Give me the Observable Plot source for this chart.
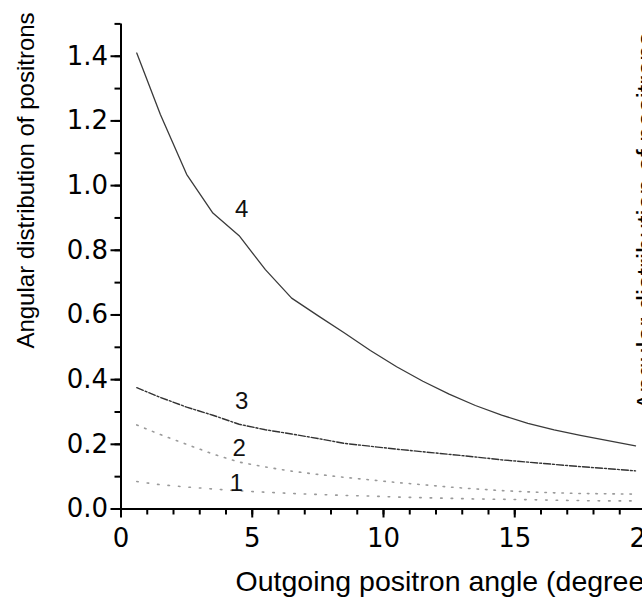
<!DOCTYPE html>
<html>
<head>
<meta charset="utf-8">
<script src="https://cdn.jsdelivr.net/npm/d3@7"></script>
<script src="https://cdn.jsdelivr.net/npm/@observablehq/plot@0.6"></script>
<style>
  html, body { margin: 0; padding: 0; background: #ffffff; }
  body { width: 642px; height: 609px; overflow: hidden; }
  #chart svg { display: block; max-width: none !important; width: 700px !important; height: 609px !important; }
</style>
</head>
<body>
<div id="chart"></div>
<script>
// ---- data ----
const angles = [0.6, 1.5, 2.5, 3.5, 4.5, 5.5, 6.5, 7.5, 8.5, 9.5, 10.5, 11.5, 12.5, 13.5, 14.5, 15.5, 16.5, 17.5, 18.5, 19.6];
const curve4 = [1.41, 1.22, 1.035, 0.915, 0.845, 0.74, 0.652, 0.598, 0.545, 0.49, 0.44, 0.395, 0.355, 0.32, 0.29, 0.265, 0.245, 0.228, 0.212, 0.195];
const curve3 = [0.375, 0.345, 0.315, 0.29, 0.262, 0.245, 0.232, 0.218, 0.203, 0.194, 0.185, 0.177, 0.169, 0.161, 0.152, 0.145, 0.138, 0.131, 0.125, 0.118];
const curve2 = [0.26, 0.23, 0.2, 0.17, 0.145, 0.13, 0.117, 0.107, 0.098, 0.09, 0.082, 0.075, 0.068, 0.062, 0.057, 0.053, 0.05, 0.048, 0.047, 0.046];
const curve1 = [0.085, 0.075, 0.068, 0.062, 0.056, 0.052, 0.048, 0.045, 0.042, 0.04, 0.037, 0.035, 0.033, 0.031, 0.03, 0.029, 0.027, 0.026, 0.025, 0.025];

const curveNames = ["1", "2", "3", "4"];
const labelX = [4.4, 4.5, 4.6, 4.6];
const labelY = [0.08, 0.189, 0.333, 0.926];

const xMajorTicks = [0, 5, 10, 15, 20];
const xMinorTicks = [0, 1, 2, 3, 4, 5, 6, 7, 8, 9, 10, 11, 12, 13, 14, 15, 16, 17, 18, 19, 20];
const yMajorTicks = [0, 0.2, 0.4, 0.6, 0.8, 1.0, 1.2, 1.4];
const yMinorTicks = [0, 0.1, 0.2, 0.3, 0.4, 0.5, 0.6, 0.7, 0.8, 0.9, 1.0, 1.1, 1.2, 1.3, 1.4, 1.5];

const xLabel = "Outgoing positron angle (degrees)";
const yLabel = "Angular distribution of positrons";
const yLabelNeighbour = "Angular distribution of positrons";

// ---- build tables ----
const toRows = (vals) => angles.map((a, i) => ({angle: a, value: vals[i]}));
const rows4 = toRows(curve4), rows3 = toRows(curve3), rows2 = toRows(curve2), rows1 = toRows(curve1);
const labels = curveNames.map((n, i) => ({name: n, x: labelX[i], y: labelY[i]}));

const tickFont = "'DejaVu Sans', sans-serif";

const chart = Plot.plot({
  width: 700,
  height: 609,
  marginLeft: 120.5,
  marginRight: 54.5,
  marginTop: 23.4,
  marginBottom: 100.5,
  x: {domain: [0, 20]},
  y: {domain: [0, 1.5]},
  style: {fontFamily: "'Liberation Sans', Arial, sans-serif", background: "#ffffff", color: "#000000", overflow: "visible"},
  marks: [
    Plot.line(rows1, {x: "angle", y: "value", stroke: "#9a9a9a", strokeWidth: 1.6, strokeDasharray: "1.5,9"}),
    Plot.line(rows2, {x: "angle", y: "value", stroke: "#9a9a9a", strokeWidth: 1.6, strokeDasharray: "1.5,7"}),
    Plot.line(rows3, {x: "angle", y: "value", stroke: "#333333", strokeWidth: 1.4, strokeDasharray: "7,2,2,2"}),
    Plot.line(rows4, {x: "angle", y: "value", stroke: "#3a3a3a", strokeWidth: 1.3}),
    Plot.text(labels, {x: "x", y: "y", text: "name", fontSize: 24, fill: "#111"}),
    Plot.axisX({ticks: xMinorTicks, tickSize: 6, tickFormat: () => "", label: null, stroke: "#000", strokeWidth: 2}),
    Plot.axisX({ticks: xMajorTicks, tickSize: 9, tickPadding: 11, tickFormat: d3.format("d"), label: null, stroke: "#000", strokeWidth: 2, fontSize: 26, fontFamily: tickFont}),
    Plot.axisY({ticks: yMinorTicks, tickSize: 6, tickFormat: () => "", label: null, stroke: "#000", strokeWidth: 2}),
    Plot.axisY({ticks: yMajorTicks, tickSize: 10, tickPadding: 3, tickFormat: d3.format(".1f"), label: null, stroke: "#000", strokeWidth: 2, fontSize: 26, fontFamily: tickFont}),
    Plot.ruleY([0], {stroke: "#000000", strokeWidth: 2}),
    Plot.ruleX([0], {y1: 0, y2: 1.5, stroke: "#000000", strokeWidth: 2}),
    Plot.text([xLabel], {text: d => d, frameAnchor: "bottom-left", textAnchor: "start", dx: 114.5, dy: 82, fontSize: 28.5}),
    Plot.text([yLabel], {text: d => d, frameAnchor: "top-left", textAnchor: "middle", rotate: -90, dx: -104, dy: 156.6, fontSize: 24}),
    Plot.text([yLabelNeighbour], {text: d => d, frameAnchor: "top-right", textAnchor: "start", rotate: -90, dx: -9, dy: 386.6, fontSize: 27})
  ]
});
document.getElementById("chart").appendChild(chart);
</script>
</body>
</html>
